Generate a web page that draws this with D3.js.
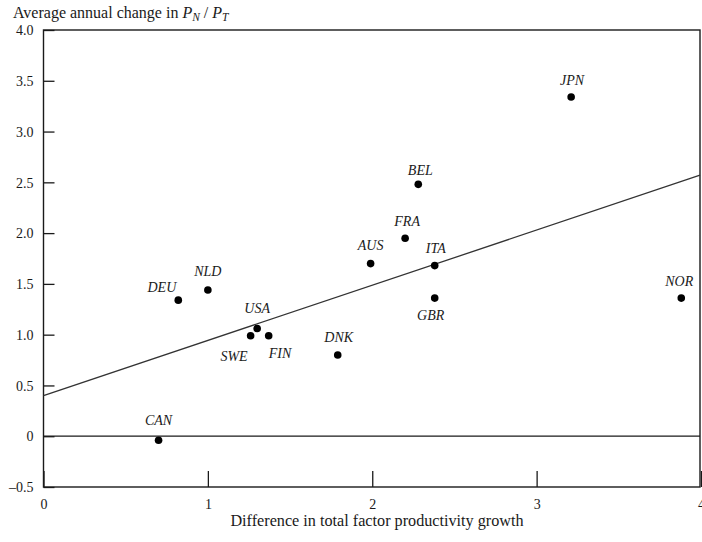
<!DOCTYPE html>
<html><head><meta charset="utf-8">
<script src="https://cdn.jsdelivr.net/npm/d3@7"></script>
<style>
html,body{margin:0;padding:0;background:#fff;}
svg{display:block;}
</style></head>
<body>
<svg id="chart" width="702" height="542"></svg>
<script>
// ---- data ----
const countries = ["CAN","DEU","NLD","SWE","USA","FIN","DNK","AUS","FRA","BEL","ITA","GBR","JPN","NOR"];
const tfpDiff   = [0.70, 0.82, 1.00, 1.26, 1.30, 1.37, 1.79, 1.99, 2.20, 2.28, 2.38, 2.38, 3.21, 3.88];
const priceChg  = [-0.04, 1.34, 1.44, 0.99, 1.06, 0.99, 0.80, 1.70, 1.95, 2.48, 1.68, 1.36, 3.34, 1.36];
const fitX = [0, 4];
const fitY = [0.40, 2.57];
const xTicks = [0, 1, 2, 3, 4];
const yTicks = [-0.5, 0, 0.5, 1.0, 1.5, 2.0, 2.5, 3.0, 3.5, 4.0];
const xTitle = "Difference in total factor productivity growth";

// ---- label placement (style) ----
const labelPos = {
  CAN:{anchor:"middle",dx:0,dy:-15},
  DEU:{anchor:"end",dx:-2,dy:-8},
  NLD:{anchor:"middle",dx:0,dy:-14},
  SWE:{anchor:"end",dx:-3,dy:25},
  USA:{anchor:"middle",dx:0,dy:-16},
  FIN:{anchor:"start",dx:0,dy:22},
  DNK:{anchor:"middle",dx:1,dy:-13},
  AUS:{anchor:"middle",dx:0,dy:-14},
  FRA:{anchor:"middle",dx:2,dy:-12},
  BEL:{anchor:"middle",dx:2,dy:-9},
  ITA:{anchor:"middle",dx:1,dy:-13},
  GBR:{anchor:"middle",dx:-4,dy:22},
  JPN:{anchor:"middle",dx:1,dy:-12},
  NOR:{anchor:"middle",dx:-2,dy:-12}
};

const svg = d3.select("#chart");
const serif = "'Liberation Serif','Times New Roman',serif";
const ink = "#1a1a1a";

const x = d3.scaleLinear().domain([0, 4]).range([43.5, 701]);
const y = d3.scaleLinear().domain([-0.5, 4]).range([487, 30]);

// y axis
const yAxis = d3.axisLeft(y).tickValues(yTicks).tickSizeInner(-11).tickSizeOuter(0).tickPadding(10)
  .tickFormat(d => d === 0 ? "0" : (d < 0 ? "\u2013" + Math.abs(d).toFixed(1) : d.toFixed(1)));
const gy = svg.append("g").attr("transform", `translate(${x(0)},0)`).call(yAxis);
gy.select(".domain").remove();
gy.selectAll("line").attr("stroke", ink).attr("stroke-width", 1.3);
gy.selectAll("text").attr("font-family", serif).attr("font-size", 14).attr("fill", ink).attr("dy", "0.34em");

// x axis
const xAxis = d3.axisBottom(x).tickValues(xTicks).tickSizeInner(-16).tickSizeOuter(0).tickPadding(12)
  .tickFormat(d3.format("d"));
const gx = svg.append("g").attr("transform", `translate(0,${y(-0.5)})`).call(xAxis);
gx.select(".domain").remove();
gx.selectAll("line").attr("stroke", ink).attr("stroke-width", 1.3);
gx.selectAll("text").attr("font-family", serif).attr("font-size", 14).attr("fill", ink);

// frame
svg.append("rect")
  .attr("x", x(0)).attr("y", y(4))
  .attr("width", x(4) - x(0) - 1).attr("height", y(-0.5) - y(4))
  .attr("fill", "none").attr("stroke", ink).attr("stroke-width", 1.4);

// zero line
svg.append("line")
  .attr("x1", x(0)).attr("x2", x(4) - 1)
  .attr("y1", y(0)).attr("y2", y(0))
  .attr("stroke", ink).attr("stroke-width", 1.3);

// regression line
svg.append("line")
  .attr("x1", x(fitX[0])).attr("y1", y(fitY[0]))
  .attr("x2", x(fitX[1]) - 1).attr("y2", y(fitY[1]))
  .attr("stroke", "#333").attr("stroke-width", 1.3);

// points
const pts = countries.map((c, i) => ({c, xv: tfpDiff[i], yv: priceChg[i]}));
svg.append("g").selectAll("circle").data(pts).join("circle")
  .attr("cx", d => x(d.xv)).attr("cy", d => y(d.yv)).attr("r", 3.8).attr("fill", "#000");

svg.append("g").selectAll("text").data(pts).join("text")
  .attr("x", d => x(d.xv) + labelPos[d.c].dx)
  .attr("y", d => y(d.yv) + labelPos[d.c].dy)
  .attr("text-anchor", d => labelPos[d.c].anchor)
  .attr("font-family", serif).attr("font-style", "italic").attr("font-size", 14)
  .attr("fill", ink)
  .text(d => d.c);

// axis titles
svg.append("text")
  .attr("x", 377).attr("y", 526)
  .attr("text-anchor", "middle")
  .attr("font-family", serif).attr("font-size", 16.2).attr("fill", ink)
  .text(xTitle);

const t = svg.append("text").attr("x", 13).attr("y", 18)
  .attr("font-family", serif).attr("font-size", 16).attr("fill", ink);
t.append("tspan").text("Average annual change in ");
t.append("tspan").attr("font-style", "italic").text("P");
t.append("tspan").attr("font-style", "italic").attr("font-size", 11.5).attr("dy", 3).text("N");
t.append("tspan").attr("dy", -3).text(" / ");
t.append("tspan").attr("font-style", "italic").text("P");
t.append("tspan").attr("font-style", "italic").attr("font-size", 11.5).attr("dy", 3).text("T");
</script>
</body></html>
